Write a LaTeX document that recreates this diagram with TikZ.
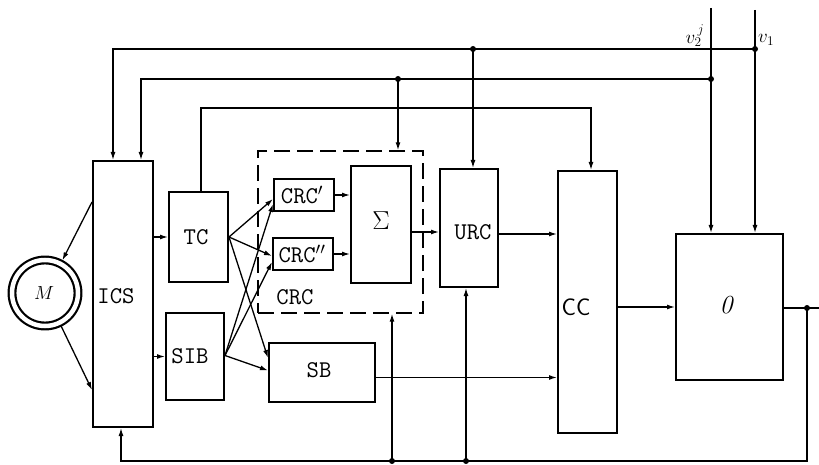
\documentclass[tikz,border=0pt]{standalone}
\usepackage{fix-cm}
\usetikzlibrary{arrows.meta,calc}
\begin{document}
\begin{tikzpicture}[x=1pt,y=-1pt,
  blk/.style={draw,line width=2pt,inner sep=0pt,anchor=center},
  conn/.style={line width=1.3pt},
  arr/.style={conn,-{Latex[length=8pt,width=5pt]}},
  lbl/.style={font=\fontsize{24}{26}\selectfont\ttfamily,inner sep=0pt},
  slbl/.style={font=\fontsize{24}{26}\selectfont\sffamily,inner sep=0pt},
  dot/.style={circle,fill,inner sep=0pt,minimum size=6pt}]
\useasboundingbox (0,0) rectangle (819,465);

% ---- blocks
\node[blk,minimum width=60pt,minimum height=266pt] (ICS) at (123,294) {};
\node[blk,minimum width=59pt,minimum height=90pt]  (TC)  at (198.5,237) {};
\node[blk,minimum width=58pt,minimum height=87pt]  (SIB) at (195,356.5) {};
\node[blk,minimum width=106pt,minimum height=59pt] (SB)  at (322,372.5) {};
\node[blk,minimum width=60pt,minimum height=32pt]  (CRC1) at (304,195) {};
\node[blk,minimum width=60pt,minimum height=32pt]  (CRC2) at (303,254) {};
\node[blk,minimum width=60pt,minimum height=117pt] (SIG) at (381,224.5) {};
\node[draw,line width=1.4pt,dash pattern=on 16pt off 7pt,inner sep=0pt,
      minimum width=165pt,minimum height=162pt] (CRCB) at (340.5,232) {};
\node[blk,minimum width=58pt,minimum height=118pt] (URC) at (469,228) {};
\node[blk,minimum width=59pt,minimum height=262pt] (CC)  at (587.5,302) {};
\node[blk,minimum width=107pt,minimum height=146pt] (OB) at (729.5,307) {};
\node[circle,draw,line width=2.2pt,double,double distance=4.5pt,minimum size=66pt,
      inner sep=0pt,outer sep=4pt] (M) at (45,293) {};

% ---- labels
\node[lbl] (tICS) at (116,296) {ICS};
\node[lbl] (tTC)  at (196,237) {TC};
\node[lbl] (tSIB) at (190,356) {SIB};
\node[lbl] (tSB)  at (319,370) {SB};
\node[lbl] (tCRC1) at (302,195) {CRC$'$};
\node[lbl] (tCRC2) at (302,254) {CRC$''$};
\node[lbl] (tCRC) at (295,297) {CRC};
\node[lbl] (tURC) at (473,232) {URC};
\node[slbl] (tCC) at (576,307) {CC};
\node[font=\fontsize{26}{28}\selectfont,inner sep=0pt] (tSIG) at (381,221) {$\Sigma$};
\node[font=\fontsize{26}{28}\selectfont\itshape,inner sep=0pt] (tO) at (726,305) {0};
\node[font=\fontsize{19}{21}\selectfont,inner sep=0pt] (tM) at (44,293) {$M$};
\node[font=\fontsize{19}{21}\selectfont,inner sep=0pt] (tv2) at (695,36) {$v_2^{\,j}$};
\node[font=\fontsize{19}{21}\selectfont,inner sep=0pt] (tv1) at (766,40) {$v_1$};

% ---- motor connections
\draw[arr] ($(ICS.north west)+(0,42)$) -- (M.62);
\draw[arr] (M.-64) -- ($(ICS.north west)+(0,230)$);

% ---- forward path
\draw[arr] (ICS.east |- TC.west) -- (TC.west);
\draw[arr] (ICS.east |- SIB.west) -- (SIB.west);
\draw[arr] (TC.east) -- ($(CRC1.west)+(0,4)$);
\draw[arr] (TC.east) -- ($(CRC2.west)+(0,2)$);
\draw[arr] (TC.east) -- ($(SB.north west)+(0,16)$);
\draw[arr] ($(SIB.east)+(0,-1)$) -- ($(CRC1.west)+(0,9)$);
\draw[arr] ($(SIB.east)+(0,-1)$) -- ($(CRC2.west)+(0,8)$);
\draw[arr] ($(SIB.east)+(0,-1)$) -- ($(SB.west)+(0,-2)$);
\draw[arr] (CRC1.east) -- (CRC1.east -| SIG.west);
\draw[arr] (CRC2.east) -- (CRC2.east -| SIG.west);
\coordinate (su) at ($(URC.west)+(0,4)$);
\draw[arr] (SIG.east |- su) -- (su);
\coordinate (uc) at ($(URC.east)+(0,6)$);
\draw[arr] (uc) -- (uc -| CC.west);
\coordinate (sc) at ($(SB.east)+(0,5)$);
\draw[arr] (sc) -- (sc -| CC.west);
\draw[arr] (CC.east |- OB.west) -- (OB.west);

% ---- output and bottom feedback
\coordinate (J) at (807,308);
\coordinate (Jout) at (819,308);
\coordinate (BR) at (807,461);
\coordinate (BL) at (121,461);
\coordinate (b1) at (392,461);
\coordinate (b2) at (466,461);
\draw[conn] (OB.east |- J) -- (Jout);
\draw[arr] (J) -- (BR) -- (BL) -- (BL |- ICS.south);
\draw[arr] (b1) -- (b1 |- CRCB.south);
\draw[arr] (b2) -- (b2 |- URC.south);
\node[dot] (dJ) at (J) {};
\node[dot] (db1) at (b1) {};
\node[dot] (db2) at (b2) {};

% ---- top inputs and feedbacks
\coordinate (v2t) at (711,8);
\coordinate (v1t) at (755,10);
\coordinate (j2r) at (711,79);
\coordinate (j1r) at (755,49);
\coordinate (j1m) at (473,49);
\coordinate (j2m) at (398,79);
\coordinate (l1) at (113,49);
\coordinate (l2) at (141,79);
\draw[arr] (v2t) -- (v2t |- OB.north);
\draw[arr] (v1t) -- (v1t |- OB.north);
\draw[arr] (j1r) -- (l1) -- (l1 |- ICS.north);
\draw[arr] (j2r) -- (l2) -- (l2 |- ICS.north);
\draw[arr] (j1m) -- (j1m |- URC.north);
\draw[arr] (j2m) -- (j2m |- CRCB.north);
\coordinate (t0) at (201,192);
\coordinate (t1) at (201,108);
\coordinate (t2) at (591,108);
\draw[arr] (t0) -- (t1) -- (t2) -- (t2 |- CC.north);
\node[dot] (dj1r) at (j1r) {};
\node[dot] (dj2r) at (j2r) {};
\node[dot] (dj1m) at (j1m) {};
\node[dot] (dj2m) at (j2m) {};
\end{tikzpicture}
\end{document}
